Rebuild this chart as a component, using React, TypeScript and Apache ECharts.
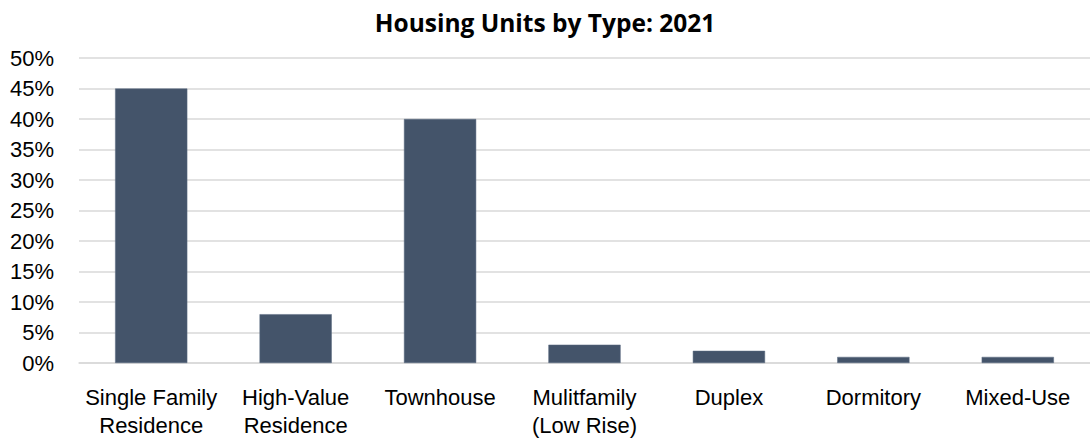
import React, { useEffect, useRef } from "react";
import * as echarts from "echarts";

const categories = [
  "Single Family\nResidence",
  "High-Value\nResidence",
  "Townhouse",
  "Mulitfamily\n(Low Rise)",
  "Duplex",
  "Dormitory",
  "Mixed-Use",
];
const shares = [45, 8, 40, 3, 2, 1, 1];
const titleText = "Housing Units by Type: 2021";

export default function App() {
  const ref = useRef<HTMLDivElement>(null);
  useEffect(() => {
    if (!ref.current) return;
    const chart = echarts.init(ref.current, null, { renderer: "svg" });
    chart.setOption({
      animation: false,
      backgroundColor: "#ffffff",
      title: {
        text: titleText,
        left: "center",
        top: 5,
        textStyle: {
          fontFamily: "Open Sans",
          fontWeight: "bold",
          fontSize: 24.5,
          color: "#000000",
        },
      },
      grid: { left: 79, right: 0, top: 58, bottom: 77 },
      xAxis: {
        type: "category",
        data: categories,
        axisLine: { show: true, lineStyle: { color: "#d9d9d9", width: 1.5 } },
        axisTick: { show: false },
        axisLabel: {
          interval: 0,
          margin: 20,
          fontFamily: "Liberation Sans",
          fontSize: 22,
          lineHeight: 28,
          color: "#000000",
        },
      },
      yAxis: {
        type: "value",
        min: 0,
        max: 50,
        interval: 5,
        axisLine: { show: false },
        axisTick: { show: false },
        splitLine: { lineStyle: { color: "#d9d9d9", width: 1.5 } },
        axisLabel: {
          formatter: "{value}%",
          margin: 25,
          fontFamily: "Liberation Sans",
          fontSize: 22,
          color: "#000000",
        },
      },
      series: [
        {
          type: "bar",
          data: shares,
          barWidth: "50%",
          itemStyle: { color: "#44546a", borderColor: "#5a6a80", borderWidth: 0.5 },
        },
      ],
    });
    return () => chart.dispose();
  }, []);
  return (
    <div
      ref={ref}
      style={{ position: "fixed", left: 0, top: 0, width: 1090, height: 440 }}
    />
  );
}
